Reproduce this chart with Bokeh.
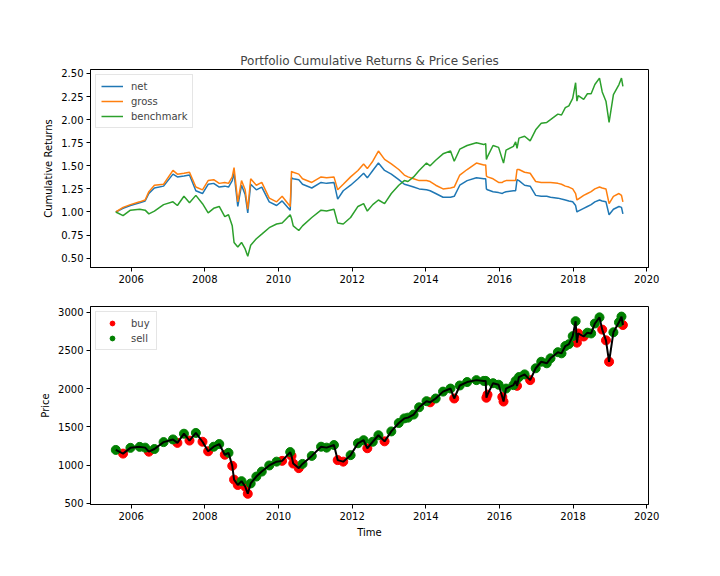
from bokeh.plotting import figure
from bokeh.layouts import column
from bokeh.models import Range1d, FixedTicker, DatetimeTickFormatter, NumeralTickFormatter
from bokeh.embed import file_html
from bokeh.resources import INLINE
import pandas as pd

# ---------------- data ----------------
dates = [
    "2005-08-01", "2005-10-12", "2005-12-24", "2006-03-26", "2006-05-19", "2006-06-25",
    "2006-08-19", "2006-11-18", "2007-02-19", "2007-04-04", "2007-06-08", "2007-08-02",
    "2007-10-04", "2007-12-09", "2008-02-03", "2008-03-29", "2008-05-23", "2008-07-17",
    "2008-08-23", "2008-09-29", "2008-10-17", "2008-11-23", "2008-12-30", "2009-02-04",
    "2009-03-02", "2009-03-31", "2009-05-26", "2009-07-19", "2009-10-01", "2009-12-13",
    "2010-02-06", "2010-04-27", "2010-05-10", "2010-05-27", "2010-07-21", "2010-08-27",
    "2010-11-27", "2011-02-27", "2011-04-23", "2011-07-05", "2011-08-11", "2011-10-05",
    "2011-12-17", "2012-02-28", "2012-04-24", "2012-05-31", "2012-07-24", "2012-09-18",
    "2012-11-18", "2013-01-24", "2013-04-08", "2013-06-02", "2013-07-08", "2013-09-02",
    "2013-10-27", "2014-01-08", "2014-02-13", "2014-04-09", "2014-06-21", "2014-09-03",
    "2014-10-10", "2014-12-04", "2015-02-15", "2015-05-18", "2015-07-30", "2015-08-18",
    "2015-08-25", "2015-09-05", "2015-10-30", "2015-12-24", "2016-01-30", "2016-02-11",
    "2016-03-07", "2016-05-19", "2016-06-10", "2016-06-24", "2016-07-13", "2016-09-07",
    "2016-11-01", "2016-12-26", "2017-02-19", "2017-04-15", "2017-05-22", "2017-08-03",
    "2017-09-08", "2017-10-16", "2017-11-20", "2017-12-28", "2018-01-26", "2018-02-08",
    "2018-02-21", "2018-04-16", "2018-05-23", "2018-06-29", "2018-08-05", "2018-09-20",
    "2018-10-17", "2018-11-23", "2018-12-24", "2019-02-05", "2019-04-01", "2019-04-26",
    "2019-05-10",
]
net = [
    1.00, 1.04, 1.07, 1.10, 1.12, 1.20, 1.26, 1.28, 1.41, 1.38, 1.39, 1.40,
    1.23, 1.20, 1.30, 1.31, 1.27, 1.28, 1.27, 1.34, 1.42, 1.06, 1.29, 1.19,
    0.99, 1.30, 1.24, 1.27, 1.11, 1.07, 1.12, 1.02, 1.37, 1.36, 1.35, 1.30,
    1.26, 1.32, 1.31, 1.32, 1.14, 1.23, 1.29, 1.36, 1.42, 1.37, 1.45, 1.53,
    1.45, 1.41, 1.35, 1.30, 1.29, 1.27, 1.25, 1.24, 1.23, 1.20, 1.16, 1.16,
    1.17, 1.29, 1.34, 1.37, 1.36, 1.36, 1.25, 1.24, 1.22, 1.21, 1.20, 1.21,
    1.22, 1.23, 1.23, 1.35, 1.34, 1.29, 1.28, 1.18, 1.17, 1.17, 1.16, 1.15,
    1.14, 1.13, 1.12, 1.11, 1.07, 1.00, 1.01, 1.04, 1.06, 1.08, 1.11, 1.13,
    1.12, 1.11, 0.97, 1.03, 1.06, 1.05, 0.98,
]
gross = [
    1.00, 1.05, 1.08, 1.11, 1.13, 1.22, 1.29, 1.30, 1.45, 1.41, 1.42, 1.43,
    1.27, 1.24, 1.34, 1.35, 1.31, 1.32, 1.31, 1.38, 1.48, 1.11, 1.34, 1.24,
    1.03, 1.36, 1.29, 1.32, 1.15, 1.11, 1.17, 1.06, 1.44, 1.43, 1.41, 1.36,
    1.32, 1.38, 1.37, 1.38, 1.24, 1.30, 1.38, 1.45, 1.52, 1.47, 1.55, 1.66,
    1.57, 1.52, 1.46, 1.40, 1.38, 1.36, 1.34, 1.34, 1.33, 1.29, 1.25, 1.26,
    1.27, 1.40, 1.46, 1.53, 1.51, 1.51, 1.39, 1.38, 1.36, 1.32, 1.32, 1.33,
    1.34, 1.34, 1.34, 1.46, 1.46, 1.43, 1.42, 1.33, 1.32, 1.32, 1.32, 1.31,
    1.30, 1.28, 1.27, 1.25, 1.20, 1.13, 1.14, 1.18, 1.20, 1.22, 1.25, 1.27,
    1.26, 1.25, 1.09, 1.17, 1.20, 1.18, 1.11,
]
benchmark = [
    1.00, 0.96, 1.02, 1.03, 1.02, 0.98, 1.01, 1.08, 1.11, 1.07, 1.17, 1.10,
    1.18, 1.09, 0.99, 1.04, 1.06, 0.95, 0.97, 0.85, 0.67, 0.62, 0.67, 0.60,
    0.52, 0.64, 0.71, 0.76, 0.83, 0.87, 0.88, 0.97, 0.93, 0.85, 0.80, 0.85,
    0.94, 1.02, 1.01, 1.03, 0.88, 0.87, 0.94, 1.06, 1.09, 1.01, 1.08, 1.13,
    1.09, 1.20, 1.29, 1.34, 1.33, 1.38, 1.45, 1.53, 1.50, 1.56, 1.63, 1.66,
    1.55, 1.68, 1.72, 1.75, 1.73, 1.74, 1.57, 1.60, 1.72, 1.70, 1.57, 1.53,
    1.67, 1.71, 1.76, 1.69, 1.80, 1.82, 1.77, 1.89, 1.96, 1.97, 2.00, 2.06,
    2.05, 2.13, 2.15, 2.23, 2.40, 2.20, 2.26, 2.22, 2.28, 2.28, 2.38, 2.45,
    2.30, 2.20, 1.97, 2.27, 2.38, 2.45, 2.36,
]
price = [
    1198, 1150, 1225, 1238, 1228, 1175, 1210, 1300, 1335, 1290, 1410, 1320,
    1420, 1305, 1180, 1240, 1275, 1135, 1160, 990, 810, 740, 790, 720,
    625, 760, 850, 915, 995, 1045, 1055, 1170, 1120, 1020, 960, 1015,
    1120, 1240, 1228, 1262, 1065, 1045, 1130, 1285, 1325, 1220, 1305, 1390,
    1310, 1440, 1550, 1610, 1620, 1660, 1755, 1835, 1820, 1870, 1960, 2000,
    1870, 2040, 2085, 2110, 2100, 2100, 1880, 1920, 2070, 2050, 1890, 1830,
    2000, 2045, 2100, 2035, 2150, 2185, 2110, 2265, 2350, 2330, 2395, 2475,
    2460, 2555, 2580, 2685, 2880, 2600, 2720, 2680, 2730, 2720, 2850, 2930,
    2770, 2630, 2350, 2735, 2865, 2940, 2830,
]
signal = [
    "sell", "buy", "sell", "sell", "sell", "buy", "sell", "sell", "sell", "buy", "sell", "buy",
    "sell", "buy", "buy", "sell", "sell", "buy", "sell", "buy", "buy", "buy", "sell", "buy",
    "buy", "sell", "sell", "sell", "sell", "sell", "buy", "sell", "buy", "buy", "buy", "sell",
    "sell", "sell", "sell", "sell", "buy", "buy", "sell", "sell", "sell", "buy", "sell", "sell",
    "buy", "sell", "sell", "sell", "sell", "sell", "sell", "sell", "buy", "sell", "sell", "sell",
    "buy", "sell", "sell", "sell", "sell", "sell", "buy", "buy", "sell", "sell", "buy", "buy",
    "sell", "sell", "sell", "buy", "sell", "sell", "buy", "sell", "sell", "sell", "sell", "sell",
    "sell", "sell", "sell", "sell", "sell", "buy", "buy", "buy", "sell", "sell", "sell", "sell",
    "buy", "buy", "buy", "sell", "sell", "sell", "buy",
]
year_ticks = [2006, 2008, 2010, 2012, 2014, 2016, 2018, 2020]
return_ticks = [0.50, 0.75, 1.00, 1.25, 1.50, 1.75, 2.00, 2.25, 2.50]
price_ticks = [500, 1000, 1500, 2000, 2500, 3000]

# ---------------- build ----------------
FONT = "DejaVu Sans"
x = list(pd.to_datetime(dates))
year_ms = [pd.Timestamp(f"{y}-01-01").value // 10**6 for y in year_ticks]

x_range = Range1d(start=pd.Timestamp("2004-11-23"), end=pd.Timestamp("2020-01-19"))


def style(p):
    p.outline_line_color = "black"
    p.outline_line_width = 1
    p.xgrid.visible = False
    p.ygrid.visible = False
    p.background_fill_color = "white"
    p.border_fill_color = "white"
    for ax in (p.xaxis[0], p.yaxis[0]):
        ax.major_label_text_font = FONT
        ax.major_label_text_font_size = "10px"
        ax.major_label_text_color = "black"
        ax.axis_label_text_font = FONT
        ax.axis_label_text_font_size = "10px"
        ax.axis_label_text_font_style = "normal"
        ax.axis_label_text_color = "black"
        ax.major_tick_out = 4
        ax.major_tick_in = 0
        ax.minor_tick_out = 0
        ax.minor_tick_in = 0
        ax.major_tick_line_color = "black"
        ax.axis_line_color = "black"
        ax.major_label_standoff = 3
        ax.axis_label_standoff = 4
    p.xaxis[0].ticker = FixedTicker(ticks=year_ms, minor_ticks=[])
    p.xaxis[0].formatter = DatetimeTickFormatter(years="%Y", months="%Y", days="%Y")


def style_legend(p):
    lg = p.legend[0]
    lg.location = "top_left"
    lg.label_text_font = FONT
    lg.label_text_font_size = "10px"
    lg.label_height = 12
    lg.glyph_height = 12
    lg.glyph_width = 22
    lg.label_standoff = 8
    lg.spacing = 3
    lg.padding = 5
    lg.margin = 5
    lg.border_line_color = "#cccccc"
    lg.border_line_width = 1
    lg.background_fill_alpha = 0.8


p1 = figure(x_axis_type="datetime", frame_width=558, frame_height=198,
            min_border_left=90, min_border_right=64, min_border_top=69, min_border_bottom=21,
            x_range=x_range, y_range=Range1d(0.399, 2.543),
            title="Portfolio Cumulative Returns & Price Series",
            output_backend="svg", toolbar_location=None)
p1.title.align = "center"
p1.title.text_font = FONT
p1.title.text_font_size = "12px"
p1.title.text_font_style = "normal"
p1.title.standoff = 4
style(p1)
p1.yaxis[0].ticker = FixedTicker(ticks=return_ticks, minor_ticks=[])
p1.yaxis[0].formatter = NumeralTickFormatter(format="0.00")
p1.yaxis[0].axis_label = "Cumulative Returns"

p1.line(x, net, color="#1f77b4", line_width=1.5, legend_label="net")
p1.line(x, gross, color="#ff7f0e", line_width=1.5, legend_label="gross")
p1.line(x, benchmark, color="#2ca02c", line_width=1.5, legend_label="benchmark")
style_legend(p1)

p2 = figure(x_axis_type="datetime", frame_width=558, frame_height=198,
            min_border_left=90, min_border_right=64, min_border_top=18, min_border_bottom=64,
            x_range=x_range, y_range=Range1d(485, 3072),
            output_backend="svg", toolbar_location=None)
style(p2)
p2.yaxis[0].ticker = FixedTicker(ticks=price_ticks, minor_ticks=[])
p2.yaxis[0].axis_label = "Price"
p2.xaxis[0].axis_label = "Time"

buy_x = [d for d, s in zip(x, signal) if s == "buy"]
buy_y = [v for v, s in zip(price, signal) if s == "buy"]
sell_x = [d for d, s in zip(x, signal) if s == "sell"]
sell_y = [v for v, s in zip(price, signal) if s == "sell"]

p2.scatter(buy_x, buy_y, marker="circle", size=9, color="red", legend_label="buy")
p2.scatter(sell_x, sell_y, marker="circle", size=9, color="green", legend_label="sell")
p2.line(x, price, color="black", line_width=2)
style_legend(p2)

layout = column(p1, p2, spacing=0)
open("out.html", "w").write(file_html(layout, INLINE))
